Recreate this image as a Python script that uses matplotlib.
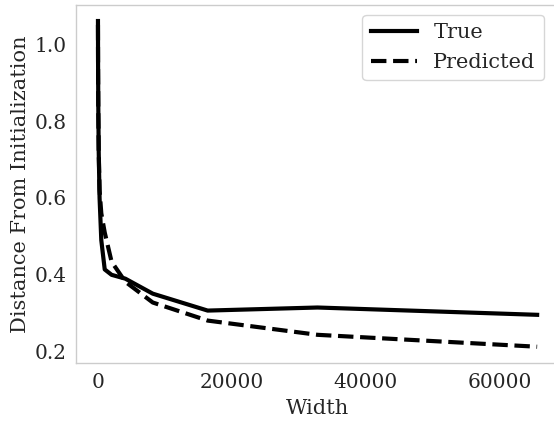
import matplotlib
matplotlib.use("Agg")
import matplotlib.pyplot as plt

widths = [16, 32, 64, 128, 256, 512, 1024, 2048, 4096, 8192, 16384, 32768, 65536]
true_vals = [1.06, 0.95, 0.84, 0.72, 0.60, 0.49, 0.414, 0.40, 0.39, 0.351, 0.307, 0.315, 0.296]
pred_vals = [1.05, 0.94, 0.83, 0.72, 0.62, 0.56, 0.51, 0.434, 0.382, 0.328, 0.281, 0.244, 0.213]

plt.rcParams['font.family'] = ['DejaVu Serif']
text_color = '#262626'
fs_tick = 14.5
fs_lab = 15

fig = plt.figure(figsize=(5.54, 4.23), dpi=100)
ax = fig.add_axes([0.1372, 0.1418, 0.872, 0.847])
ax.plot(widths, true_vals, color='black', lw=3, label='True')
ax.plot(widths, pred_vals, color='black', lw=3, ls='--', label='Predicted')

for s in ax.spines.values():
    s.set_color('#cccccc')
    s.set_linewidth(1.0)
ax.tick_params(length=0, labelsize=fs_tick, colors=text_color, pad=7)
ax.set_xticks([0, 20000, 40000, 60000])
ax.set_yticks([0.2, 0.4, 0.6, 0.8, 1.0])
ax.set_xlabel('Width', fontsize=fs_lab, color=text_color, labelpad=5)
ax.set_ylabel('Distance From Initialization', fontsize=fs_lab, color=text_color, labelpad=3)
leg = ax.legend(fontsize=fs_lab, loc='upper right', frameon=True, fancybox=True,
                edgecolor='#cccccc', handlelength=2.2, bbox_to_anchor=(0.99, 1.0))
for t in leg.get_texts():
    t.set_color(text_color)

fig.savefig('out.png', dpi=100)
